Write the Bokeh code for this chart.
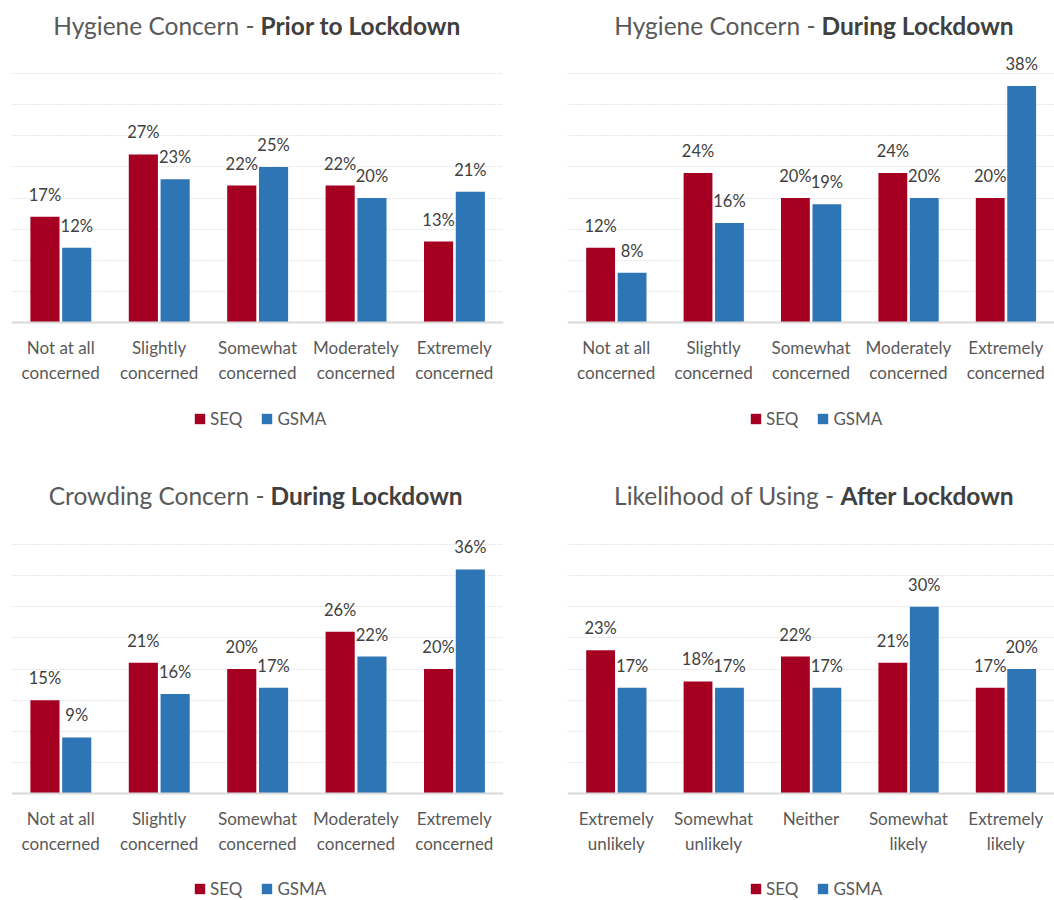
from bokeh.plotting import figure
from bokeh.models import FactorRange, Range1d, FixedTicker, Label, Legend, LegendItem
from bokeh.layouts import column, row
from bokeh.transform import dodge
from bokeh.core.properties import value
from bokeh.embed import file_html
from bokeh.resources import INLINE

# Response categories
concern_levels = ["Not at all\nconcerned", "Slightly\nconcerned", "Somewhat\nconcerned",
                  "Moderately\nconcerned", "Extremely\nconcerned"]
likelihood_levels = ["Extremely\nunlikely", "Somewhat\nunlikely", "Neither",
                     "Somewhat\nlikely", "Extremely\nlikely"]

# Share of respondents (%) per category
hygiene_prior_seq = [17, 27, 22, 22, 13]
hygiene_prior_gsma = [12, 23, 25, 20, 21]
hygiene_during_seq = [12, 24, 20, 24, 20]
hygiene_during_gsma = [8, 16, 19, 20, 38]
crowding_during_seq = [15, 21, 20, 26, 20]
crowding_during_gsma = [9, 16, 17, 22, 36]
likelihood_after_seq = [23, 18, 22, 21, 17]
likelihood_after_gsma = [17, 17, 17, 30, 20]

series_names = ["SEQ", "GSMA"]
grid_ticks = [5, 10, 15, 20, 25, 30, 35, 40]

RED = "#A50021"
BLUE = "#2E75B6"
FONT = "Lato"
PX_PER_PCT = 249 / 40   # vertical scale: 40% spans 249 px


def panel(title_regular, title_bold, cats, seq, gsma, *, width, height,
          left, right, baseline_px, title_px, split_px, legend_px):
    frame_w = width - left - right
    # the frame spans the full panel height so titles and legend sit inside it;
    # the category axis is pinned to y = 0
    y_top = baseline_px / PX_PER_PCT
    y_bottom = -(height - baseline_px) / PX_PER_PCT
    p = figure(x_range=FactorRange(factors=cats, range_padding=0),
               y_range=Range1d(y_bottom, y_top),
               width=width, height=height,
               min_border_left=left, min_border_right=right,
               min_border_top=0, min_border_bottom=0,
               output_backend="svg", toolbar_location=None,
               background_fill_color="white", border_fill_color="white")
    p.outline_line_color = None

    data = dict(cat=cats, seq=seq, gsma=gsma,
                seq_lbl=[f"{v}%" for v in seq], gsma_lbl=[f"{v}%" for v in gsma])

    r_seq = p.vbar(x=dodge("cat", -0.16, range=p.x_range), top="seq", bottom=0,
                   width=0.296, source=data, fill_color=RED, line_color=None)
    r_gsma = p.vbar(x=dodge("cat", 0.163, range=p.x_range), top="gsma", bottom=0,
                    width=0.296, source=data, fill_color=BLUE, line_color=None)

    for off, col in ((-0.16, "seq"), (0.163, "gsma")):
        p.text(x=dodge("cat", off, range=p.x_range), y=col, text=f"{col}_lbl",
               source=data, text_align="center", text_baseline="middle",
               y_offset=-22, text_font=value(FONT), text_font_size="16.5px",
               text_color="#404040")

    # y axis is hidden; only the dotted guide lines remain
    p.yaxis.visible = False
    p.ygrid.ticker = FixedTicker(ticks=grid_ticks)
    p.ygrid.grid_line_color = "#CCCCCC"
    p.ygrid.grid_line_dash = "1 2"
    p.ygrid.grid_line_width = 1
    p.xgrid.grid_line_color = None

    ax = p.xaxis[0]
    ax.fixed_location = 0
    ax.axis_line_color = "#D9D9D9"
    ax.axis_line_width = 2
    ax.major_tick_line_color = None
    ax.minor_tick_line_color = None
    ax.major_label_standoff = 8
    ax.major_label_text_font = FONT
    ax.major_label_text_font_size = "17px"
    ax.major_label_text_color = "#595959"

    # two-part title: regular lead-in, bold period
    split = split_px / frame_w * len(cats)
    title_y = (baseline_px - title_px) / PX_PER_PCT
    p.add_layout(Label(x=split, y=title_y, x_offset=-3, text=title_regular,
                       text_align="right", text_baseline="middle",
                       text_font=FONT, text_font_size="24.5px", text_color="#595959"))
    p.add_layout(Label(x=split, y=title_y, x_offset=3, text=title_bold,
                       text_align="left", text_baseline="middle",
                       text_font=FONT, text_font_size="24.5px", text_font_style="bold",
                       text_color="#404040"))

    legend = Legend(items=[LegendItem(label=series_names[0], renderers=[r_seq]),
                           LegendItem(label=series_names[1], renderers=[r_gsma])],
                    orientation="horizontal", location=legend_px,
                    glyph_width=13, glyph_height=13, label_standoff=4, spacing=18,
                    label_text_font=FONT, label_text_font_size="17px",
                    label_text_color="#595959", label_height=16,
                    padding=0, margin=0, border_line_color=None,
                    background_fill_alpha=0)
    p.add_layout(legend, "center")
    return p


p1 = panel("Hygiene Concern -", "Prior to Lockdown", concern_levels,
           hygiene_prior_seq, hygiene_prior_gsma,
           width=527, height=450, left=11, right=24, baseline_px=322, title_px=25,
           split_px=246, legend_px=(182, 21))
p2 = panel("Hygiene Concern -", "During Lockdown", concern_levels,
           hygiene_during_seq, hygiene_during_gsma,
           width=527, height=450, left=40, right=0, baseline_px=322, title_px=25,
           split_px=251, legend_px=(182, 21))
p3 = panel("Crowding Concern -", "During Lockdown", concern_levels,
           crowding_during_seq, crowding_during_gsma,
           width=527, height=450, left=11, right=24, baseline_px=343, title_px=45,
           split_px=256, legend_px=(182, 1))
p4 = panel("Likelihood of Using -", "After Lockdown", likelihood_levels,
           likelihood_after_seq, likelihood_after_gsma,
           width=527, height=450, left=40, right=0, baseline_px=343, title_px=45,
           split_px=270, legend_px=(182, 1))

layout = column(row(p1, p2), row(p3, p4))

open("out.html", "w").write(file_html(layout, INLINE))
